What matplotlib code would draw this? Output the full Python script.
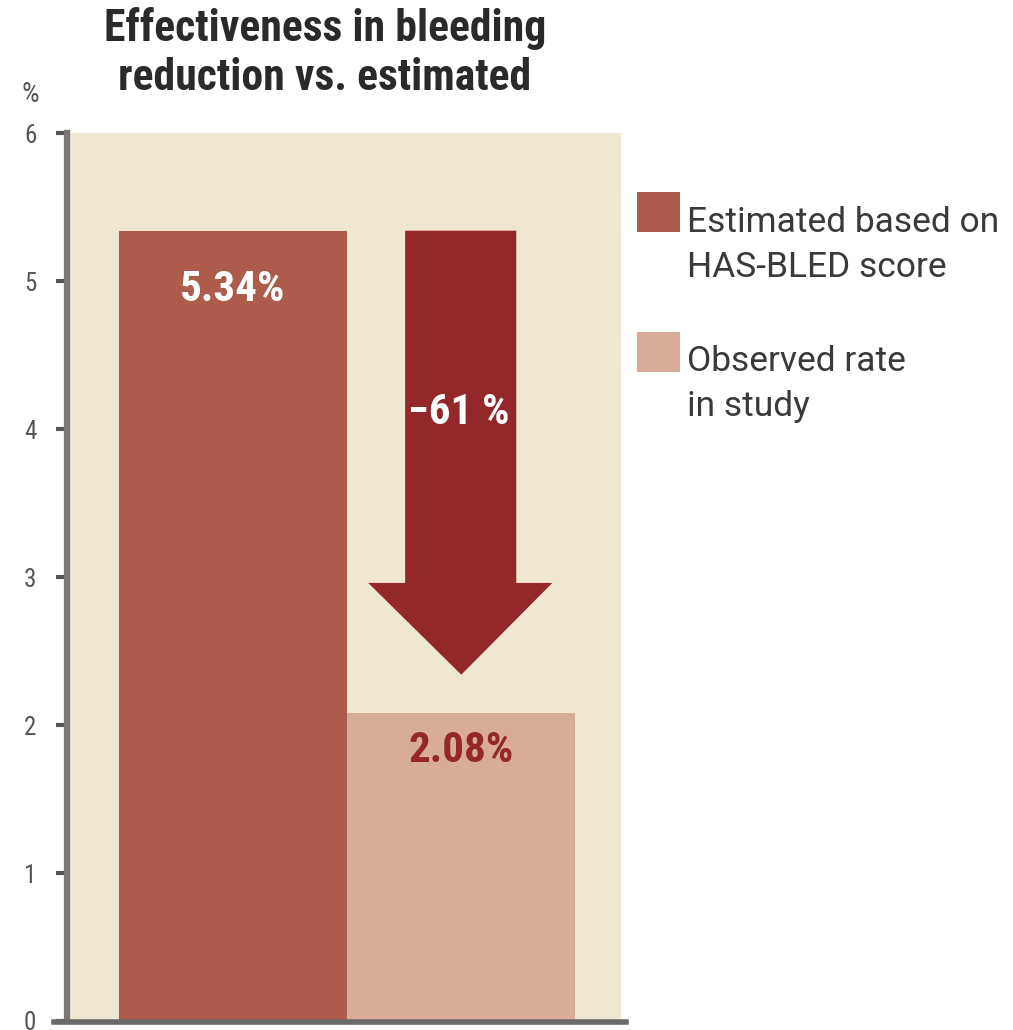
import matplotlib
matplotlib.use("Agg")
import matplotlib.pyplot as plt
from matplotlib import font_manager
from matplotlib.patches import Polygon
from matplotlib.lines import Line2D

categories = ["Estimated based on\nHAS-BLED score", "Observed rate\nin study"]
values = [5.34, 2.08]
bar_labels = ["5.34%", "2.08%"]
reduction_label = "\u221261 %"
yticks = [0, 1, 2, 3, 4, 5, 6]
title = "Effectiveness in bleeding\nreduction vs. estimated"

names = {f.name for f in font_manager.fontManager.ttflist}
cond = None
for cand in ["Roboto Condensed", "Liberation Sans Narrow", "DejaVu Sans Condensed"]:
    if cand in names:
        cond = cand
        break
if cond is None:
    cond = "DejaVu Sans"
reg = "Roboto" if "Roboto" in names else "DejaVu Sans"

bg = "#efe7d1"
c1 = "#ad5b4a"
c2 = "#d8ac99"
arrow_c = "#93272a"
spine_c = "#777774"

fig = plt.figure(figsize=(10.13, 10.30), dpi=100)
ax = fig.add_axes([67/1013, 1-1021/1030, (621-67)/1013, (1021-133)/1030])
ax.set_facecolor(bg)

x = [0, 1]
ax.bar(x, values, width=1.0, color=[c1, c2], zorder=2)
ax.set_xlim(-0.728, 1.70)
ax.set_ylim(0, 6)

# arrow (down from estimated towards observed)
sh_l, sh_r = 0.754, 1.241
hd_l, hd_r = 0.592, 1.399
x_tip = 1.0
y_top = values[0]
y_head = 2.96
y_tip = 2.34
arrow = Polygon([(sh_l, y_top), (sh_r, y_top), (sh_r, y_head), (hd_r, y_head),
                 (x_tip, y_tip), (hd_l, y_head), (sh_l, y_head)],
                closed=True, facecolor=arrow_c, edgecolor="none", zorder=3)
ax.add_patch(arrow)

ax.text(0, 4.94, bar_labels[0], color="white", fontsize=31,
        family=cond, fontweight="bold", ha="center", va="center", zorder=4)
ax.text(1, 1.83, bar_labels[1], color=arrow_c, fontsize=31,
        family=cond, fontweight="bold", ha="center", va="center", zorder=4)
ax.text(0.99, 4.11, reduction_label, color="white", fontsize=31,
        family=cond, fontweight="bold", ha="center", va="center", zorder=4)

for s in ["top", "right", "bottom"]:
    ax.spines[s].set_visible(False)
ax.spines["left"].set_color(spine_c)
ax.spines["left"].set_linewidth(4.5)
ax.set_xticks([])
ax.set_yticks(yticks)
ax.set_yticklabels([str(t) for t in yticks], family=cond, fontsize=18, color="#555555")
ax.tick_params(axis="y", length=8, width=3, color="#555555", pad=14)

fig.add_artist(Line2D([54/1013, 626/1013], [1-1022/1030, 1-1022/1030],
                      color="#6a6a6a", linewidth=4, transform=fig.transFigure))

fig.text(30/1013, 1-95/1030, "%", family=cond, fontsize=20, color="#555555",
         ha="center", va="center")
fig.text(325/1013, 1-53/1030, title, family=cond, fontweight="bold", fontsize=31.5,
         color="#2a2a2a", ha="center", va="center", linespacing=1.22)

# legend
colors = [c1, c2]
patch_tops = [192, 332]
text_y = [245, 384]
for col, top, ty, lab in zip(colors, patch_tops, text_y, categories):
    fig.patches.append(plt.Rectangle((637/1013, 1-(top+40)/1030), 43/1013, 40/1030,
                                     transform=fig.transFigure, facecolor=col,
                                     edgecolor="none"))
    fig.text(687/1013, 1-ty/1030, lab, family=reg, fontsize=25.5, color="#3a3a3a",
             ha="left", va="center", linespacing=1.45)

fig.savefig("out.png", dpi=100, facecolor="white")
